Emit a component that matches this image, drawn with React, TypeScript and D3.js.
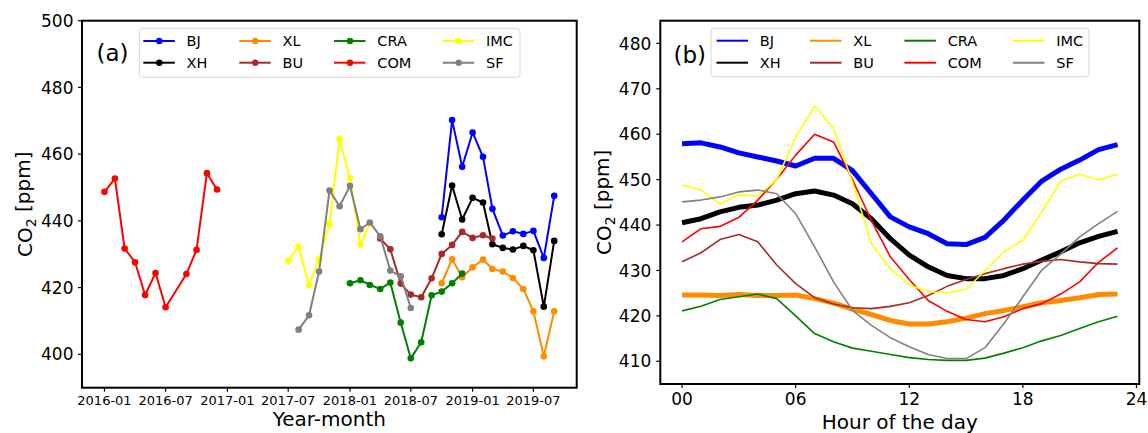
import React from 'react';
import * as d3 from 'd3';

const FONT = "'DejaVu Sans', 'Liberation Sans', sans-serif";

// ---------- series meta ----------
const SERIES_NAMES = ['BJ', 'XH', 'XL', 'BU', 'CRA', 'COM', 'IMC', 'SF'];
const SERIES_COLORS = ['#0000ff', '#000000', '#ff8c00', '#a52a2a', '#008000', '#ff0000', '#ffff00', '#808080'];

// ---------- panel (a): monthly means (first month + consecutive months, null = missing) ----------
const BJ_START = '2018-10';
const BJ_MONTHLY = [441.1, 470.2, 456.2, 466.5, 459.2, 443.6, 435.6, 436.9, 436.1, 437.0, 428.9, 447.5];
const XH_START = '2018-10';
const XH_MONTHLY = [436.0, 450.6, 440.4, 446.9, 445.5, 433.0, 431.9, 431.4, 432.5, 431.2, 414.3, 434.0];
const XL_START = '2018-10';
const XL_MONTHLY = [421.3, 428.5, 423.1, 426.1, 428.4, 425.6, 424.8, 422.9, 419.6, 412.9, 399.4, 412.9];
const BU_START = '2018-04';
const BU_MONTHLY = [434.7, 431.5, 421.2, 417.9, 417.1, 422.8, 430.1, 432.8, 436.7, 434.9, 435.7, 434.7];
const CRA_START = '2018-01';
const CRA_MONTHLY = [421.3, 422.2, 420.8, 419.6, 421.5, 409.5, 398.8, 403.6, 417.7, 418.8, 421.3, 424.2];
const COM_START = '2016-01';
const COM_MONTHLY = [448.7, 452.7, 431.7, 427.6, 417.8, 424.4, 414.1, null, 424.1, 431.3, 454.3, 449.4];
const IMC_START = '2017-07';
const IMC_MONTHLY = [428.1, 432.2, 420.8, 428.5, 439.1, 464.5, 452.8, 432.9, 439.3];
const SF_START = '2017-08';
const SF_MONTHLY = [407.4, 411.7, 424.8, 449.1, 444.4, 450.5, 437.5, 439.5, 435.4, 425.1, 423.4, 413.9];

const MONTHLY_STARTS = [BJ_START, XH_START, XL_START, BU_START, CRA_START, COM_START, IMC_START, SF_START];
const MONTHLY_VALUES = [BJ_MONTHLY, XH_MONTHLY, XL_MONTHLY, BU_MONTHLY, CRA_MONTHLY, COM_MONTHLY, IMC_MONTHLY, SF_MONTHLY];

const A_X_TICKS = ['2016-01', '2016-07', '2017-01', '2017-07', '2018-01', '2018-07', '2019-01', '2019-07'];
const A_Y_TICKS = [400, 420, 440, 460, 480, 500];

// ---------- panel (b): diurnal cycle ----------
const HOURS = [0, 1, 2, 3, 4, 5, 6, 7, 8, 9, 10, 11, 12, 13, 14, 15, 16, 17, 18, 19, 20, 21, 22, 23];
const BJ_HOURLY = [457.9, 458.1, 457.2, 455.9, 455.0, 454.1, 453.0, 454.7, 454.7, 452.0, 446.9, 441.8, 439.6, 438.1, 435.9, 435.7, 437.3, 441.1, 445.5, 449.7, 452.3, 454.3, 456.6, 457.7];
const XH_HOURLY = [440.5, 441.4, 442.9, 443.9, 444.4, 445.5, 446.9, 447.5, 446.6, 444.7, 441.4, 437.0, 433.4, 430.8, 428.9, 428.2, 428.2, 428.9, 430.4, 432.3, 434.1, 436.1, 437.5, 438.6];
const XL_HOURLY = [424.6, 424.6, 424.5, 424.7, 424.5, 424.5, 424.6, 423.8, 422.8, 421.5, 420.3, 419.0, 418.2, 418.2, 418.7, 419.5, 420.5, 421.2, 422.0, 422.9, 423.4, 424.0, 424.7, 424.8];
const BU_HOURLY = [431.9, 433.9, 436.8, 437.9, 436.3, 431.2, 427.1, 424.0, 422.6, 421.8, 421.6, 422.1, 422.9, 424.5, 426.5, 428.0, 429.3, 430.4, 431.4, 432.0, 432.4, 431.9, 431.5, 431.4];
const CRA_HOURLY = [421.1, 422.1, 423.6, 424.2, 424.8, 423.8, 420.0, 416.1, 414.3, 412.9, 412.2, 411.5, 410.8, 410.4, 410.2, 410.2, 410.7, 411.8, 413.0, 414.5, 415.7, 417.2, 418.7, 419.9];
const COM_HOURLY = [436.3, 439.2, 439.7, 441.7, 445.5, 450.1, 455.4, 460.0, 458.3, 450.0, 441.0, 433.0, 428.0, 423.4, 421.0, 419.2, 418.7, 419.8, 421.6, 422.7, 424.8, 427.5, 431.8, 435.0];
const IMC_HOURLY = [448.8, 447.7, 444.6, 446.7, 446.4, 450.0, 459.4, 466.2, 461.3, 449.5, 435.9, 430.4, 426.8, 425.3, 425.1, 425.8, 430.0, 434.1, 436.7, 442.9, 449.7, 451.2, 450.0, 451.2];
const SF_HOURLY = [445.1, 445.5, 446.2, 447.3, 447.7, 446.9, 442.5, 435.2, 427.5, 421.2, 417.9, 415.2, 413.2, 411.5, 410.6, 410.6, 413.0, 418.3, 424.2, 430.1, 433.6, 437.4, 440.3, 443.0];

const HOURLY_VALUES = [BJ_HOURLY, XH_HOURLY, XL_HOURLY, BU_HOURLY, CRA_HOURLY, COM_HOURLY, IMC_HOURLY, SF_HOURLY];
const B_X_TICKS = [0, 6, 12, 18, 24];
const B_X_TICK_LABELS = ['00', '06', '12', '18', '24'];
const B_Y_TICKS = [410, 420, 430, 440, 450, 460, 470, 480];

// ---------- styles ----------
const B_LINE_WIDTHS = [5, 5, 5, 1.6, 1.6, 1.6, 1.6, 1.6];

const parseMonth = (s: string) => {
  const [y, m] = s.split('-').map(Number);
  return new Date(Date.UTC(y, m - 1, 1));
};
const addMonths = (d: Date, k: number) => new Date(Date.UTC(d.getUTCFullYear(), d.getUTCMonth() + k, 1));

type Pt = { date: Date; v: number };
const monthlySeries: Pt[][] = MONTHLY_VALUES.map((vals, i) => {
  const s = parseMonth(MONTHLY_STARTS[i]);
  return vals
    .map((v, k) => ({ date: addMonths(s, k), v: v as number }))
    .filter((p) => p.v !== null && p.v !== undefined);
});

// ---------- geometry ----------
const A = { left: 82, right: 576.7, top: 20.7, bottom: 387.7 };
const B = { left: 660.3, right: 1139.3, top: 20.7, bottom: 384 };

const allDates = monthlySeries.flat().map((p) => p.date.getTime());
const dMin = d3.min(allDates) as number;
const dMax = d3.max(allDates) as number;
const pad = (dMax - dMin) * 0.05;
const xA = d3.scaleUtc().domain([new Date(dMin - pad), new Date(dMax + pad)]).range([A.left, A.right]);
const yA = d3.scaleLinear().domain([390, 500]).range([A.bottom, A.top]);

const xB = d3.scaleLinear().domain([-1.15, 24.15]).range([B.left, B.right]);
const yB = d3.scaleLinear().domain([405, 485]).range([B.bottom, B.top]);

const lineA = d3.line<Pt>().x((p) => xA(p.date)).y((p) => yA(p.v));
const lineB = d3.line<number>().x((_, i) => xB(HOURS[i])).y((v) => yB(v));

const LEG_A = { x0: 139.3, y0: 28.3, x1: 520, y1: 77.3, cols: [143.3, 239.3, 334, 442.7], rows: [41, 62.7] };
const LEG_B = { x0: 711, y0: 28.3, x1: 1089, y1: 76.7, cols: [716.5, 810, 904.4, 1012.9], rows: [40.7, 62.7] };

function Legend({ cfg, markers }: { cfg: typeof LEG_A; markers: boolean }) {
  return (
    <g>
      <rect x={cfg.x0} y={cfg.y0} width={cfg.x1 - cfg.x0} height={cfg.y1 - cfg.y0} rx={3}
        fill="#ffffff" fillOpacity={0.8} stroke="#d6d6d6" strokeWidth={1} />
      {SERIES_NAMES.map((name, i) => {
        const col = Math.floor(i / 2);
        const row = i % 2;
        const lx = cfg.cols[col];
        const ly = cfg.rows[row];
        return (
          <g key={name}>
            <line x1={lx} x2={lx + 31.5} y1={ly} y2={ly} stroke={SERIES_COLORS[i]} strokeWidth={2} />
            {markers && <circle cx={lx + 16} cy={ly} r={3.2} fill={SERIES_COLORS[i]} />}
            <text x={lx + 43.3} y={ly} dy="0.36em" fontSize={14.5} fontFamily={FONT} fill="#000">{name}</text>
          </g>
        );
      })}
    </g>
  );
}

function YLabel({ x, y }: { x: number; y: number }) {
  return (
    <text transform={`translate(${x},${y}) rotate(-90)`} textAnchor="middle" fontSize={20} fontFamily={FONT} fill="#000">
      CO<tspan fontSize={14} dy="0.3em">2</tspan><tspan dy="-0.3em"> [ppm]</tspan>
    </text>
  );
}

export default function App() {
  return (
    <svg width={1148} height={433} style={{ position: 'absolute', left: 0, top: 0, background: '#fff' }}
      xmlns="http://www.w3.org/2000/svg">
      <rect x={0} y={0} width={1148} height={433} fill="#fff" />

      {/* ---------- panel (a) ---------- */}
      <g>
        {monthlySeries.map((pts, i) => (
          <g key={SERIES_NAMES[i]}>
            <path d={lineA(pts) || ''} fill="none" stroke={SERIES_COLORS[i]} strokeWidth={2} strokeLinejoin="round" />
            {pts.map((p, k) => (
              <circle key={k} cx={xA(p.date)} cy={yA(p.v)} r={3.3} fill={SERIES_COLORS[i]} />
            ))}
          </g>
        ))}
        <rect x={A.left} y={A.top} width={A.right - A.left} height={A.bottom - A.top} fill="none" stroke="#000" strokeWidth={2} />
        {A_Y_TICKS.map((t) => (
          <g key={t}>
            <line x1={A.left - 4} x2={A.left} y1={yA(t)} y2={yA(t)} stroke="#000" strokeWidth={1.2} />
            <text x={A.left - 8.5} y={yA(t)} dy="0.36em" textAnchor="end" fontSize={17} fontFamily={FONT}>{t}</text>
          </g>
        ))}
        {A_X_TICKS.map((t) => {
          const x = xA(parseMonth(t));
          return (
            <g key={t}>
              <line x1={x} x2={x} y1={A.bottom} y2={A.bottom + 4} stroke="#000" strokeWidth={1.2} />
              <text x={x} y={404.5} textAnchor="middle" fontSize={13} fontFamily={FONT}>{t}</text>
            </g>
          );
        })}
        <text x={(A.left + A.right) / 2} y={426} textAnchor="middle" fontSize={20} fontFamily={FONT}>Year-month</text>
        <YLabel x={32} y={(A.top + A.bottom) / 2} />
        <text x={96.5} y={61} fontSize={23} fontFamily={FONT}>(a)</text>
        <Legend cfg={LEG_A} markers={true} />
      </g>

      {/* ---------- panel (b) ---------- */}
      <g>
        {HOURLY_VALUES.map((vals, i) => (
          <path key={SERIES_NAMES[i]} d={lineB(vals) || ''} fill="none" stroke={SERIES_COLORS[i]}
            strokeWidth={B_LINE_WIDTHS[i]} strokeLinejoin="round" />
        ))}
        <rect x={B.left} y={B.top} width={B.right - B.left} height={B.bottom - B.top} fill="none" stroke="#000" strokeWidth={2} />
        {B_Y_TICKS.map((t) => (
          <g key={t}>
            <line x1={B.left - 4} x2={B.left} y1={yB(t)} y2={yB(t)} stroke="#000" strokeWidth={1.2} />
            <text x={B.left - 9} y={yB(t)} dy="0.36em" textAnchor="end" fontSize={17} fontFamily={FONT}>{t}</text>
          </g>
        ))}
        {B_X_TICKS.map((t, i) => {
          const x = xB(t);
          return (
            <g key={t}>
              <line x1={x} x2={x} y1={B.bottom} y2={B.bottom + 4} stroke="#000" strokeWidth={1.2} />
              <text x={x} y={405} textAnchor="middle" fontSize={17} fontFamily={FONT}>{B_X_TICK_LABELS[i]}</text>
            </g>
          );
        })}
        <text x={(B.left + B.right) / 2} y={429} textAnchor="middle" fontSize={20} fontFamily={FONT}>Hour of the day</text>
        <YLabel x={611} y={(B.top + B.bottom) / 2} />
        <text x={673.5} y={63} fontSize={23} fontFamily={FONT}>(b)</text>
        <Legend cfg={LEG_B} markers={false} />
      </g>
    </svg>
  );
}
